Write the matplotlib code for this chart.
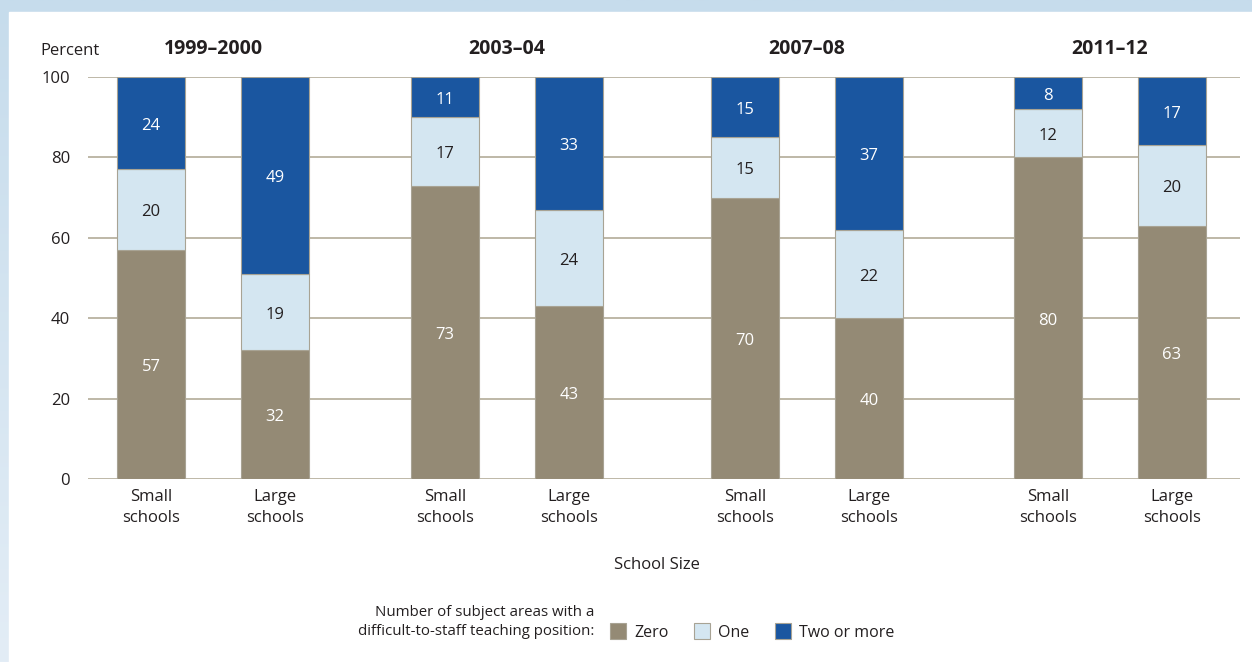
import numpy as np
import matplotlib.pyplot as plt
from matplotlib.patches import Rectangle
from matplotlib.colors import LinearSegmentedColormap

plt.rcParams['font.family'] = ['Open Sans', 'DejaVu Sans']

years = ['1999–2000', '2003–04', '2007–08', '2011–12']
sizes = ['Small\nschools', 'Large\nschools']
zero = [57, 32, 73, 43, 70, 40, 80, 63]
one = [20, 19, 17, 24, 15, 22, 12, 20]
two = [24, 49, 11, 33, 15, 37, 8, 17]
legend_labels = ['Zero', 'One', 'Two or more']

c_zero = '#948a75'
c_one = '#d4e6f1'
c_two = '#1a56a0'
c_grid = '#b3ab98'
c_text = '#231f20'

fig = plt.figure(figsize=(12.52, 6.62), dpi=100)

# light blue frame with gradient on the left, white panel
bg = fig.add_axes([0, 0, 1, 1], zorder=-10)
grad = np.linspace(0, 1, 256).reshape(-1, 1)
cmap = LinearSegmentedColormap.from_list('bg', ['#c6dcec', '#e3edf6'])
bg.imshow(grad, aspect='auto', cmap=cmap, extent=[0, 1, 0, 1], origin='upper')
bg.add_patch(Rectangle((9 / 1252, 0), 1, 1 - 12 / 662, color='white'))
bg.set_xlim(0, 1)
bg.set_ylim(0, 1)
bg.axis('off')

ax = fig.add_axes([88 / 1252, 1 - 479 / 662, (1240 - 88) / 1252, (479 - 77) / 662])
ax.set_facecolor('none')

group_starts = [151, 445, 745, 1048]
x = np.array([[g, g + 124] for g in group_starts]).ravel()
w = 68
zero = np.array(zero)
one = np.array(one)
two = np.array(two)
# rounded shares do not always add to 100; the top segment fills the bar
top = 100 - zero - one

ec = '#a8a394'
b1 = ax.bar(x, zero, w, color=c_zero, edgecolor=ec, linewidth=0.8, zorder=3)
b2 = ax.bar(x, one, w, bottom=zero, color=c_one, edgecolor=ec, linewidth=0.8, zorder=3)
b3 = ax.bar(x, top, w, bottom=zero + one, color=c_two, edgecolor=ec, linewidth=0.8, zorder=3)

fs = 12
dy = -0.7
for i in range(len(x)):
    ax.text(x[i], zero[i] / 2 + dy, str(zero[i]), ha='center', va='center',
            color='white', fontsize=fs, zorder=4)
    ax.text(x[i], zero[i] + one[i] / 2 + dy, str(one[i]), ha='center', va='center',
            color=c_text, fontsize=fs, zorder=4)
    ax.text(x[i], zero[i] + one[i] + top[i] / 2 + dy, str(two[i]), ha='center',
            va='center', color='white', fontsize=fs, zorder=4)

ax.set_xlim(88, 1240)
ax.set_ylim(0, 100)
ax.set_yticks(range(0, 101, 20))
ax.yaxis.grid(True, color=c_grid, linewidth=1.2, zorder=1)
for s in ax.spines.values():
    s.set_visible(False)
ax.tick_params(axis='y', length=0, pad=13, labelsize=12, labelcolor=c_text)
ax.tick_params(axis='x', length=0, pad=7, labelsize=12, labelcolor=c_text)
ax.set_xticks(x)
ax.set_xticklabels(sizes * len(years), linespacing=1.45)

for g, yr in zip(group_starts, years):
    ax.text(g + 62, 104.5, yr, ha='center', va='bottom', fontsize=14,
            fontweight='bold', color=c_text)
ax.text(40, 104.5, 'Percent', ha='left', va='bottom', fontsize=12, color=c_text)

fig.text(657 / 1252, 1 - 565 / 662, 'School Size', ha='center', va='center',
         fontsize=12, color=c_text)
fig.text(594 / 1252, 1 - 622 / 662,
         'Number of subject areas with a\ndifficult-to-staff teaching position:',
         ha='right', va='center', fontsize=10.8, color=c_text, multialignment='right',
         linespacing=1.35)
fig.legend([b1, b2, b3], legend_labels, loc='center left',
           bbox_to_anchor=(610 / 1252, 1 - 632 / 662), ncol=3, frameon=False,
           borderpad=0, borderaxespad=0,
           handlelength=1.0, handleheight=1.15, handletextpad=0.5, columnspacing=1.6,
           fontsize=11.5, labelcolor=c_text)

fig.savefig('out.png', dpi=100)
